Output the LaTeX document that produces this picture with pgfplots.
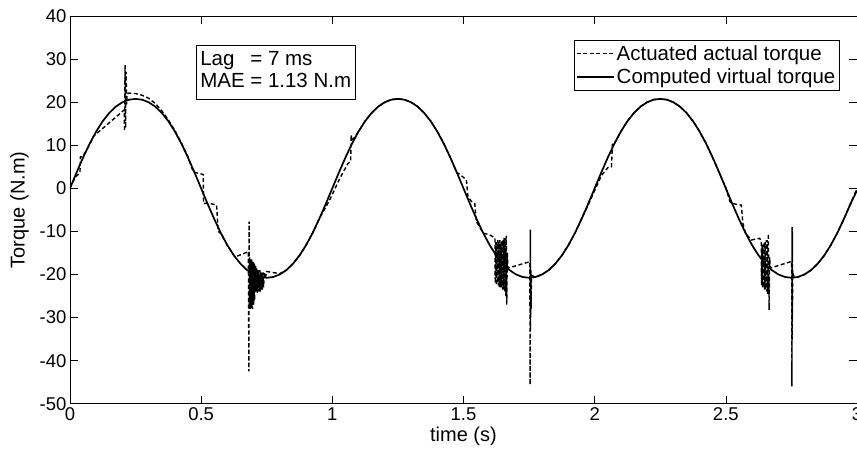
\documentclass[border=0pt]{standalone}
\usepackage{fontspec}
\setmainfont{Liberation Sans}
\usepackage{pgfplots}
\pgfplotsset{compat=1.18}
\begin{document}
\begin{tikzpicture}
\begin{axis}[name=ax,
 scale only axis, width=787.5pt, height=388pt,
 xmin=0,xmax=3,ymin=-50,ymax=40,
 xtick={0,0.5,1,1.5,2,2.5,3}, ytick={-50,-40,-30,-20,-10,0,10,20,30,40},
 tick align=inside, major tick length=8pt,
 tick style={black,line width=0.6pt},
 axis line style={black, line width=0.8pt},
 /pgf/number format/assume math mode=true,
 ticklabel style={font=\fontsize{18.5}{20}\selectfont},
 xlabel={time (s)}, ylabel={Torque (N.m)},
 ylabel style={yshift=4pt},
 label style={font=\fontsize{20}{22}\selectfont},
 legend style={at={(0.978,0.938)},anchor=north east, draw=black, line width=0.6pt,
   font=\fontsize{20.5}{22}\selectfont, inner xsep=2pt, inner ysep=3pt, row sep=3pt, cells={anchor=west}},
 legend image code/.code={\draw[#1] (0pt,0pt) -- (37pt,0pt);},
]
\addplot[black, line width=1.4pt, dash pattern=on 4pt off 2.5pt] coordinates {
(0,0)(0.02,2.6)(0.038,3.6)(0.04,7.3)(0.05,7.4)(0.075,10.2)(0.09,12.1)(0.207,18.2)(0.208,13.2)(0.21,28.6)(0.212,14.0)(0.214,27.0)(0.216,19.5)(0.218,22.0)(0.225,22.1)(0.25,22.0)(0.275,21.6)(0.3,20.9)(0.325,19.7)(0.35,18.0)(0.375,15.9)(0.4,13.4)(0.425,10.5)(0.45,7.3)(0.47,3.8)(0.508,3.2)(0.509,-3.5)(0.533,-3.5)(0.559,-3.9)(0.565,-10.0)(0.575,-10.5)(0.6,-13.2)(0.625,-15.6)(0.635,-15.8)(0.68,-14.7)
(0.682,-42.5)(0.683,-7.7)(0.684,-27)(0.685,-16)(0.686,-28)(0.687,-16.5)(0.688,-28)(0.689,-17)(0.69,-27)(0.691,-16.5)(0.692,-27.5)(0.693,-16.5)(0.694,-28)(0.695,-17)(0.696,-28)(0.697,-17)(0.698,-27)(0.699,-17)(0.7,-27)(0.701,-17.5)(0.702,-26)(0.703,-17.5)(0.704,-26)(0.705,-18)(0.706,-24)(0.708,-18)(0.71,-24)(0.712,-18.5)(0.714,-24.3)(0.716,-19)(0.718,-24)(0.72,-19)(0.722,-24)(0.724,-19)(0.726,-24)(0.728,-19.5)(0.730,-23.5)(0.732,-19.5)(0.734,-23.5)(0.736,-19.5)(0.738,-23)(0.741,-19.5)(0.745,-21)(0.749,-19.3)
(0.8,-19.8)(0.825,-19.0)(0.85,-17.5)(0.875,-15.6)(0.9,-13.2)(0.925,-10.4)(0.95,-7.1)(0.96,-6.0)(0.99,-2.7)(1.03,2.5)(1.06,5.8)(1.07,6.2)(1.072,12.4)(1.075,11.0)(1.1,13.2)
(1.125,15.6)(1.15,17.5)(1.175,19.0)(1.2,20.0)(1.225,20.6)(1.25,20.8)(1.275,20.6)(1.3,20.0)(1.325,19.0)(1.35,17.5)(1.375,15.6)(1.4,13.2)(1.425,10.4)(1.45,7.1)(1.475,3.6)(1.48,3.5)(1.511,2.0)(1.517,-1.9)(1.53,-3.0)(1.543,-3.5)(1.549,-7.7)(1.575,-10.4)(1.6,-10.8)(1.62,-11.5)
(1.621,-22)(1.623,-12.5)(1.625,-22.5)(1.627,-12.5)(1.629,-22)(1.631,-12)(1.633,-22.5)(1.635,-12.5)(1.637,-23)(1.639,-12)(1.641,-23)(1.643,-12.5)(1.645,-23)(1.647,-12)(1.649,-23.5)(1.651,-12)(1.653,-23.5)(1.655,-11.5)(1.657,-24)(1.659,-11.5)(1.661,-25)(1.663,-11)(1.665,-27)(1.667,-15)(1.67,-18.5)(1.749,-17.1)(1.753,-17.1)
(1.754,-45.6)(1.755,-9.6)(1.7555,-33)(1.756,-19)(1.7565,-30)(1.757,-19)(1.758,-28)(1.759,-20.2)(1.775,-20.6)(1.8,-20.0)(1.825,-19.0)(1.85,-17.5)(1.875,-15.6)(1.9,-13.2)(1.925,-10.4)(1.95,-7.1)(1.975,-3.9)(2.0,-0.5)(2.026,3.0)(2.05,4.8)(2.064,5.0)(2.068,10.5)(2.075,10.4)(2.1,13.2)
(2.125,15.6)(2.15,17.5)(2.175,19.0)(2.2,20.0)(2.225,20.6)(2.25,20.8)(2.275,20.6)(2.3,20.0)(2.325,19.0)(2.35,17.5)(2.375,15.6)(2.4,13.2)(2.425,10.4)(2.45,7.1)(2.475,3.6)(2.5,0.2)(2.515,-3.0)(2.521,-3.5)(2.559,-3.9)(2.565,-8.1)(2.575,-10.4)(2.597,-12.0)(2.629,-11.6)(2.635,-12.4)
(2.636,-22.5)(2.638,-13)(2.640,-23)(2.642,-13)(2.644,-23)(2.646,-12.5)(2.648,-23.5)(2.650,-12.5)(2.652,-23.5)(2.654,-12)(2.656,-24)(2.658,-12)(2.660,-24.5)(2.662,-10.5)(2.665,-28.2)(2.667,-16)(2.669,-18.5)(2.749,-17.0)(2.751,-17.0)
(2.752,-46)(2.7522,-9)(2.7525,-17)(2.7528,-9)(2.753,-35)(2.7535,-10)(2.754,-30)(2.755,-19)(2.757,-20.3)(2.775,-20.6)(2.8,-20.0)(2.825,-19.0)(2.85,-17.5)(2.875,-15.6)(2.9,-13.2)(2.925,-10.4)(2.95,-7.1)(2.975,-3.6)(3,0)
};
\addlegendentry{Actuated actual torque}
\addplot[black, line width=1.7pt] coordinates {
(0,0)(0.025,3.64)(0.05,7.13)(0.075,10.35)(0.1,13.19)(0.125,15.59)(0.15,17.51)(0.175,18.97)(0.2,19.98)(0.225,20.57)(0.25,20.76)(0.275,20.57)(0.3,19.98)(0.325,18.97)(0.35,17.51)(0.375,15.59)(0.4,13.19)(0.425,10.35)(0.45,7.13)(0.475,3.64)(0.5,0)(0.525,-3.64)(0.55,-7.13)(0.575,-10.35)(0.6,-13.19)(0.625,-15.59)(0.65,-17.51)(0.675,-18.97)(0.7,-19.98)(0.725,-20.57)(0.75,-20.76)(0.775,-20.57)(0.8,-19.98)(0.825,-18.97)(0.85,-17.51)(0.875,-15.59)(0.9,-13.19)(0.925,-10.35)(0.95,-7.13)(0.975,-3.64)
(1,0)(1.025,3.64)(1.05,7.13)(1.075,10.35)(1.1,13.19)(1.125,15.59)(1.15,17.51)(1.175,18.97)(1.2,19.98)(1.225,20.57)(1.25,20.76)(1.275,20.57)(1.3,19.98)(1.325,18.97)(1.35,17.51)(1.375,15.59)(1.4,13.19)(1.425,10.35)(1.45,7.13)(1.475,3.64)(1.5,0)(1.525,-3.64)(1.55,-7.13)(1.575,-10.35)(1.6,-13.19)(1.625,-15.59)(1.65,-17.51)(1.675,-18.97)(1.7,-19.98)(1.725,-20.57)(1.75,-20.76)(1.775,-20.57)(1.8,-19.98)(1.825,-18.97)(1.85,-17.51)(1.875,-15.59)(1.9,-13.19)(1.925,-10.35)(1.95,-7.13)(1.975,-3.64)
(2,0)(2.025,3.64)(2.05,7.13)(2.075,10.35)(2.1,13.19)(2.125,15.59)(2.15,17.51)(2.175,18.97)(2.2,19.98)(2.225,20.57)(2.25,20.76)(2.275,20.57)(2.3,19.98)(2.325,18.97)(2.35,17.51)(2.375,15.59)(2.4,13.19)(2.425,10.35)(2.45,7.13)(2.475,3.64)(2.5,0)(2.525,-3.64)(2.55,-7.13)(2.575,-10.35)(2.6,-13.19)(2.625,-15.59)(2.65,-17.51)(2.675,-18.97)(2.7,-19.98)(2.725,-20.57)(2.75,-20.76)(2.775,-20.57)(2.8,-19.98)(2.825,-18.97)(2.85,-17.51)(2.875,-15.59)(2.9,-13.19)(2.925,-10.35)(2.95,-7.13)(2.975,-3.64)(3,-0.5)
};
\addlegendentry{Computed virtual torque}
\node[draw=black, line width=0.8pt, fill=white, anchor=north west, inner xsep=4pt, inner ysep=5pt,
  font=\fontsize{20.5}{22}\selectfont] at (axis cs:0.48,33.3)
  {\begin{tabular}{@{}l@{ }l@{}}Lag & = 7 ms\\ MAE & = 1.13 N.m\end{tabular}};
\end{axis}
\pgfresetboundingbox
\path ([xshift=-70pt,yshift=-49pt]ax.south west) rectangle ([yshift=16pt]ax.north east);
\end{tikzpicture}
\end{document}
